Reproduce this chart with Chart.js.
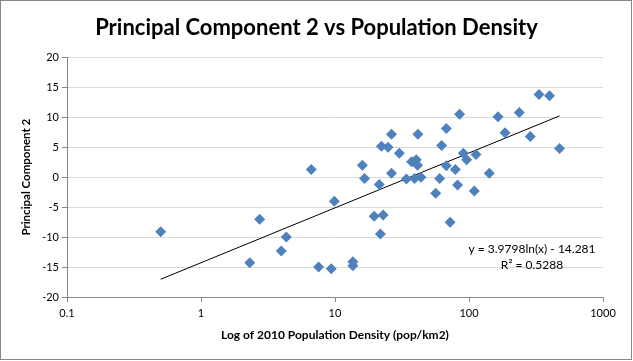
<!DOCTYPE html>
<html>
<head>
<meta charset="utf-8">
<script src="https://cdn.jsdelivr.net/npm/chart.js@4"></script>
<style>
  html, body { margin: 0; padding: 0; background: #fff; }
  #wrap { width: 633px; height: 361px; }
</style>
</head>
<body>
<div id="wrap"><canvas id="chart" width="633" height="361"></canvas></div>
<script>
// population density (pop/km2) and principal component 2
const density = [0.5, 2.31, 2.74, 3.97, 4.33, 6.65, 7.55, 9.38, 9.88, 13.6, 13.6,
  16.0, 16.6, 19.6, 21.4, 21.8, 22.2, 22.9, 24.9, 26.4, 26.4, 30.2, 34.1, 37.3,
  39.3, 40.4, 41.3, 41.6, 43.8, 56.4, 60.4, 62.5, 67.7, 67.7, 72.2, 79.1, 82.2,
  85.1, 90.7, 96.0, 109.6, 112.8, 141.7, 164.6, 185.6, 237.3, 286.6, 333, 399, 474];
const pc2 = [-9.1, -14.3, -7.0, -12.3, -10.0, 1.3, -15.0, -15.3, -4.0, -14.1, -14.8,
  2.0, -0.2, -6.5, -1.2, -9.5, 5.15, -6.3, 5.0, 7.15, 0.65, 4.0, -0.3, 2.6,
  -0.2, 2.9, 2.0, 7.15, 0.0, -2.7, -0.2, 5.3, 8.15, 1.9, -7.5, 1.3, -1.3,
  10.5, 4.0, 2.9, -2.3, 3.8, 0.65, 10.1, 7.4, 10.8, 6.8, 13.8, 13.6, 4.8];

// logarithmic trendline y = a ln(x) + b
const trendA = 3.9798;
const trendB = -14.281;
const trendR2 = 0.5288;

const xTicks = [0.1, 1, 10, 100, 1000];
const yMin = -20, yMax = 20, yStep = 5;

const points = density.map((x, i) => ({x: x, y: pc2[i]}));
const xLo = Math.min(...density), xHi = Math.max(...density);
const trend = [xLo, xHi].map(x => ({x: x, y: trendA * Math.log(x) + trendB}));

const FONT = "Lato, 'Open Sans', sans-serif";
const axisGray = "#868686";

const frame = {
  id: "frame",
  afterDraw(chart) {
    const ctx = chart.ctx;
    ctx.save();
    ctx.strokeStyle = axisGray;
    ctx.lineWidth = 1;
    ctx.strokeRect(0.5, 0.5, 631, 359);
    // trendline equation
    ctx.fillStyle = "#000";
    ctx.font = "12px " + FONT;
    ctx.textAlign = "center";
    ctx.textBaseline = "middle";
    ctx.fillText("y = " + trendA + "ln(x) - " + Math.abs(trendB), 532, 249);
    ctx.fillText("R² = " + trendR2, 532, 265);
    ctx.restore();
  }
};

new Chart("chart", {
  type: "scatter",
  data: {
    datasets: [
      {
        label: "PC2",
        data: points,
        pointStyle: "rectRot",
        pointRadius: 5.5,
        pointHoverRadius: 5.5,
        backgroundColor: "#4F81BD",
        borderColor: "#4F81BD",
        borderWidth: 0
      },
      {
        label: "Trend",
        type: "line",
        data: trend,
        borderColor: "#000",
        borderWidth: 1,
        pointRadius: 0,
        fill: false,
        tension: 0
      }
    ]
  },
  options: {
    responsive: false,
    animation: false,
    events: [],
    layout: { padding: 0 },
    plugins: {
      legend: { display: false },
      tooltip: { enabled: false },
      title: {
        display: true,
        text: "Principal Component 2 vs Population Density",
        color: "#000",
        font: { family: FONT, size: 22, weight: "bold" },
        padding: { top: 15, bottom: 16 }
      }
    },
    scales: {
      x: {
        type: "logarithmic",
        min: 0.1,
        max: 1000,
        afterBuildTicks(scale) {
          scale.ticks = xTicks.map(v => ({value: v}));
        },
        afterFit(scale) { scale.height = 64; },
        ticks: {
          color: "#000",
          font: { family: FONT, size: 11 },
          padding: 5,
          maxRotation: 0,
          autoSkip: false,
          callback: v => String(v)
        },
        grid: {
          drawOnChartArea: false,
          color: axisGray,
          tickLength: 5
        },
        border: { color: axisGray },
        title: {
          display: true,
          text: "Log of 2010 Population Density (pop/km2)",
          color: "#000",
          font: { family: FONT, size: 12, weight: "bold" },
          padding: { top: 0, bottom: 19 }
        }
      },
      y: {
        min: yMin,
        max: yMax,
        afterFit(scale) { scale.width = 67; },
        ticks: {
          stepSize: yStep,
          color: "#000",
          font: { family: FONT, size: 11 },
          padding: 3
        },
        grid: {
          color: "#D9D9D9",
          tickColor: axisGray,
          tickLength: 5
        },
        border: { color: axisGray },
        title: {
          display: true,
          text: "Principal Component 2",
          color: "#000",
          font: { family: FONT, size: 11.5, weight: "bold" },
          padding: { top: 19, bottom: 0 }
        }
      },
      // empty right-hand strip so the title stays centred on the whole picture
      spacer: {
        position: "right",
        min: yMin,
        max: yMax,
        afterFit(scale) { scale.width = 30; },
        ticks: { display: false },
        grid: { display: false },
        border: { display: false }
      }
    }
  },
  plugins: [frame]
});
</script>
</body>
</html>
